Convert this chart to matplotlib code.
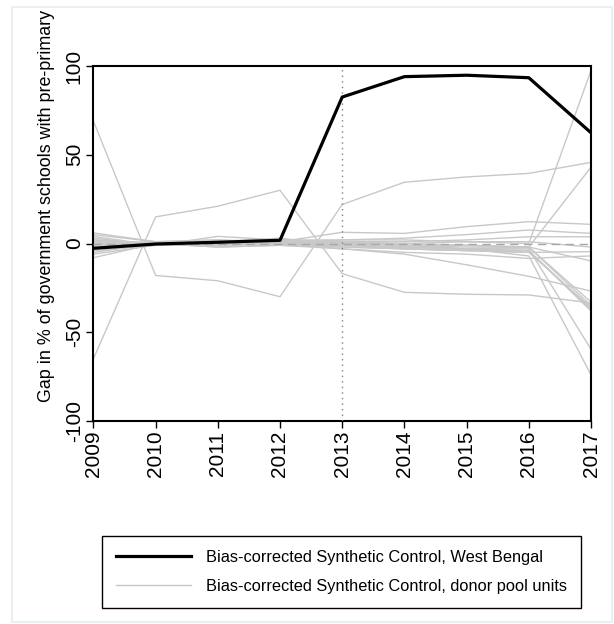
import matplotlib
matplotlib.use("Agg")
import matplotlib.pyplot as plt
from matplotlib.patches import Rectangle

plt.rcParams['font.family'] = ['Liberation Sans', 'DejaVu Sans']
plt.rcParams['axes.unicode_minus'] = False

# years on the x axis
years = [2009, 2010, 2011, 2012, 2013, 2014, 2015, 2016, 2017]

# gap for West Bengal (bias-corrected synthetic control)
west_bengal = [-2.7, -0.3, 0.7, 1.8, 82.5, 94.0, 94.8, 93.4, 62.4]

# gaps for donor pool units
donors = [
    [69, -18, -21, -30, 22, 34.5, 37.5, 39.5, 45.7],
    [-65, 15, 21, 30, -17, -27.5, -28.6, -29, -33.5],
    [6, 1, 2, 1, 6.3, 5.7, 9.5, 12.3, 10.8],
    [3, -1, 4, 2, 2, 3, 5, 7.6, 5.7],
    [1, 0, 1, 3, -1, 0, 1, 0, 97.4],
    [-2, 1, -1, 0, 0, -1, -2, -2, 43],
    [-4, -1, 0, 1, -1, -2, -3, -3, -59.6],
    [-8, 0, -2, -1, 1, -1, -3, -7, -74],
    [2, 0, 1, 1, -2, -3, -4, -5, -36],
    [-1, 1, 0, -1, -1, -2, -3, -4, -38],
    [4, -1, 1, 0, 1, 0, -1, -2, -35],
    [-3, 0, -1, 0, -3, -6, -12, -18.5, -26.8],
    [0, 1, 1, 2, 1, 1, 2, 3.8, 3.8],
    [-5, 0, -2, -1, -2, -3, -4, -5, -4.6],
    [2, 0, 0, -1, -3, -5, -6, -8.4, -7],
    [-6, -1, 1, 2, -1, -2, -3, -2, -9.8],
    [5, 1, 2, 0, 2, 2, 1, 1, -2],
    [-2, 0, 0, 1, 0, -1, -1, -2, -33],
    [1, -1, -1, 0, -1, -3, -4, -4, -37],
]

treat_year = 2013
ylabel = "Gap in % of government schools with pre-primary"

fig = plt.figure(figsize=(6.14, 6.24), dpi=100)
fig.patches.append(Rectangle((12 / 614, 2 / 624), 600 / 614, 615 / 624,
                             transform=fig.transFigure, fill=False,
                             edgecolor='#e4eeee', linewidth=1.2))
ax = fig.add_axes([93.4 / 614, 203 / 624, 497.6 / 614, 355 / 624])

donor_line = None
for d in donors:
    donor_line, = ax.plot(years, d, color='#c8c8c8', linewidth=1.0, zorder=2)
ax.axhline(0, color='#a8a8a8', linewidth=1.0, linestyle=(0, (6, 4)), zorder=3)
ax.axvline(treat_year, color='#808080', linewidth=1.0, linestyle=(0, (1, 3)), zorder=3)
wb_line, = ax.plot(years, west_bengal, color='black', linewidth=2.3, zorder=4)

ax.set_xlim(2009, 2017)
ax.set_ylim(-100, 100)
ax.set_xticks(years)
ax.set_yticks([-100, -50, 0, 50, 100])
ax.tick_params(axis='both', direction='out', length=5, width=1, labelsize=15, pad=2)
plt.setp(ax.get_xticklabels(), rotation=90)
plt.setp(ax.get_yticklabels(), rotation=90, va='center')
for s in ax.spines.values():
    s.set_linewidth(1.5)

fig.text(47 / 614, (624 - 402) / 624, ylabel, rotation=90, ha='center', va='bottom',
         fontsize=12.9)

leg = fig.legend([wb_line, donor_line],
                 ["Bias-corrected Synthetic Control, West Bengal",
                  "Bias-corrected Synthetic Control, donor pool units"],
                 loc='center', bbox_to_anchor=(341.6 / 614, 52 / 624),
                 fontsize=11.8, handlelength=4.6, handletextpad=0.9,
                 borderpad=0.85, labelspacing=0.85, borderaxespad=0,
                 fancybox=False, framealpha=1)
leg.get_frame().set_edgecolor('black')
leg.get_frame().set_linewidth(1.0)

fig.savefig("out.png", dpi=100)
